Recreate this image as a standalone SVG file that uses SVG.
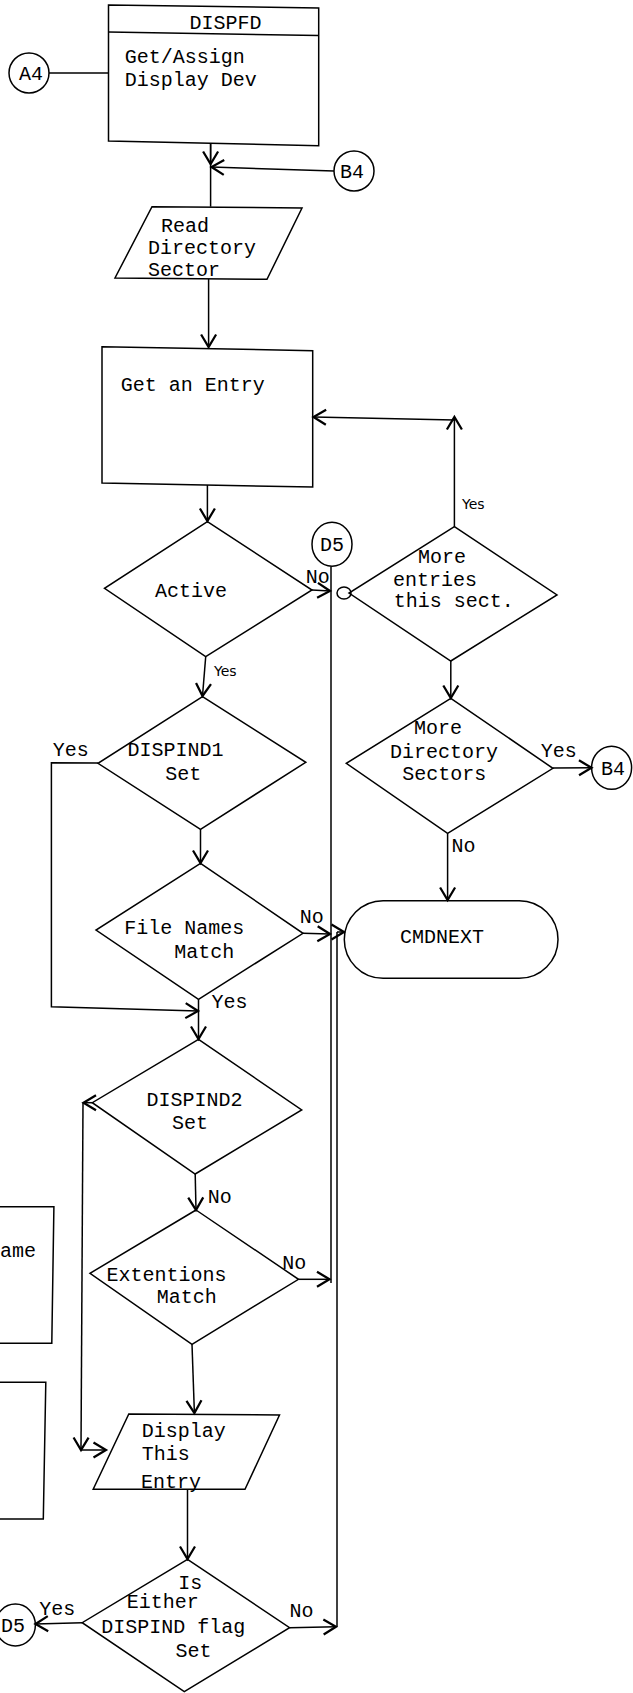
<svg xmlns="http://www.w3.org/2000/svg" width="633" height="1693" viewBox="0 0 633 1693">
<style>
.s{fill:none;stroke:#000;stroke-width:1.5}
.n{fill:none;stroke:#000;stroke-width:1.5}
.t{font-family:"Liberation Mono","DejaVu Sans Mono",monospace;font-size:20px;fill:#000}
.c{text-anchor:middle}
.hw{font-family:"DejaVu Sans",sans-serif;font-size:14px;fill:#000}
</style>
<defs>
<marker id="a" markerUnits="userSpaceOnUse" markerWidth="20" markerHeight="20" viewBox="-12 -8 14 16" refX="0" refY="0" orient="auto">
<path d="M-10,-6 L0,0 L-10,6" fill="none" stroke="#000" stroke-width="1.8"/>
</marker>
</defs>
<rect width="633" height="1693" fill="#fff"/>
<g id="connectors" class="s">
<path d="M49,73 H108.5"/>
<path d="M210.6,144 V206.7"/>
<path d="M210.6,144 V164" marker-end="url(#a)"/>
<path d="M334,171 L211.5,167" marker-end="url(#a)"/>
<path d="M208.6,279 V347" marker-end="url(#a)"/>
<path d="M207.4,485 V521" marker-end="url(#a)"/>
<path d="M454.4,526.7 V417" marker-end="url(#a)"/>
<path d="M454.4,420 L313.5,417" marker-end="url(#a)"/>
<path d="M312,590 L330,591" marker-end="url(#a)"/>
<path d="M331,566.5 V1283"/>
<ellipse cx="344" cy="593" rx="7" ry="6"/>
<path d="M450.8,661 V698" marker-end="url(#a)"/>
<path d="M552.9,768 L591.5,767.7" marker-end="url(#a)"/>
<path d="M447.6,833.3 V900" marker-end="url(#a)"/>
<path d="M205.7,656.7 L202.5,696" marker-end="url(#a)"/>
<path d="M98,763 L51.4,762.7 V1006.7 L198,1011" marker-end="url(#a)"/>
<path d="M200.5,829.3 V863" marker-end="url(#a)"/>
<path d="M303,933.3 L330,934" marker-end="url(#a)"/>
<path d="M198.5,999.3 V1039" marker-end="url(#a)"/>
<path d="M92.3,1102.7 L83.5,1102.7" marker-end="url(#a)"/>
<path d="M83,1102.7 L81,1450" marker-end="url(#a)"/>
<path d="M81,1450 H106" marker-end="url(#a)"/>
<path d="M195.2,1174 L196,1210" marker-end="url(#a)"/>
<path d="M298.5,1279.3 H329.5" marker-end="url(#a)"/>
<path d="M192,1344.3 L194.4,1413" marker-end="url(#a)"/>
<path d="M187.5,1489.3 V1559" marker-end="url(#a)"/>
<path d="M82.2,1622.7 L35.5,1624" marker-end="url(#a)"/>
<path d="M289.6,1627.7 L336,1626.7" marker-end="url(#a)"/>
<path d="M337,1626.7 V932"/>
<path d="M337,932 H344" marker-end="url(#a)"/>
</g>
<g id="dispfd">
<path class="n" d="M108.5,5 L318.7,8 L318.7,145.7 L108.5,141 Z"/>
<path class="n" d="M108.5,32 L318.7,35.5"/>
<text class="t c" x="225.6" y="29">DISPFD</text>
<text class="t" x="124.7" y="63.3">Get/Assign</text>
<text class="t" x="124.7" y="86">Display Dev</text>
</g>
<g id="a4">
<circle class="n" cx="29" cy="73" r="20"/>
<text class="t c" x="31" y="80">A4</text>
</g>
<g id="b4-top">
<circle class="n" cx="354" cy="171" r="20"/>
<text class="t c" x="352" y="178">B4</text>
</g>
<g id="read-dir">
<path class="n" d="M152,206.7 L302,208 L267,279.3 L115,278 Z"/>
<text class="t" x="161" y="232">Read</text>
<text class="t" x="148" y="254">Directory</text>
<text class="t" x="148" y="276">Sector</text>
</g>
<g id="get-entry">
<path class="n" d="M102,346.7 L312.7,350.7 L312.7,487 L102,483 Z"/>
<text class="t" x="120.7" y="390.7">Get an Entry</text>
</g>
<g id="active">
<path class="n" d="M207.4,521.7 L312,590 L205.7,656.7 L104.5,588.3 Z"/>
<text class="t" x="155" y="596.7">Active</text>
<text class="t" x="305.8" y="583.3">No</text>
<text class="hw" x="214" y="676">Yes</text>
</g>
<g id="d5-top">
<ellipse class="n" cx="332" cy="544.3" rx="20" ry="22"/>
<text class="t c" x="332" y="551">D5</text>
</g>
<g id="more-entries">
<path class="n" d="M454.4,526.7 L557,595 L450.8,661 L349,593 Z"/>
<text class="t" x="418" y="563.3">More</text>
<text class="t" x="393" y="586">entries</text>
<text class="t" x="393.7" y="607.3">this sect.</text>
<text class="hw" x="462" y="509">Yes</text>
</g>
<g id="more-dir">
<path class="n" d="M450.8,698.3 L552.9,768.3 L447.6,833.3 L346.3,763.3 Z"/>
<text class="t" x="414" y="734">More</text>
<text class="t" x="390" y="758.3">Directory</text>
<text class="t" x="402.2" y="780">Sectors</text>
<text class="t" x="540.7" y="756.7">Yes</text>
<text class="t" x="451.6" y="852.3">No</text>
</g>
<g id="b4-right">
<ellipse class="n" cx="611.6" cy="767.7" rx="20" ry="21.5"/>
<text class="t c" x="613" y="775">B4</text>
</g>
<g id="cmdnext">
<rect class="n" x="344.3" y="900.7" width="213.7" height="77.6" rx="38.8" ry="38.8"/>
<text class="t" x="400" y="942.7">CMDNEXT</text>
</g>
<g id="dispind1">
<path class="n" d="M202.5,696.7 L305.8,762.3 L200.5,829.3 L98,763.3 Z"/>
<text class="t" x="127.6" y="756">DISPIND1</text>
<text class="t" x="165.2" y="779.5">Set</text>
<text class="t" x="52.7" y="756">Yes</text>
</g>
<g id="file-names">
<path class="n" d="M200.5,863.3 L303,933.3 L198.5,999.3 L96,930 Z"/>
<text class="t" x="124.3" y="934.3">File Names</text>
<text class="t" x="174.2" y="958.3">Match</text>
<text class="t" x="299.7" y="923.3">No</text>
<text class="t" x="211.4" y="1008.3">Yes</text>
</g>
<g id="dispind2">
<path class="n" d="M198.5,1039.3 L301.7,1110 L195.2,1174 L92.3,1102.7 Z"/>
<text class="t" x="146.6" y="1105.7">DISPIND2</text>
<text class="t" x="172.1" y="1129">Set</text>
<text class="t" x="207.8" y="1203.3">No</text>
</g>
<g id="extentions">
<path class="n" d="M196,1210 L298.5,1279.3 L192,1344.3 L90,1273.3 Z"/>
<text class="t" x="106.5" y="1280.7">Extentions</text>
<text class="t" x="156.7" y="1302.7">Match</text>
<text class="t" x="282.3" y="1269">No</text>
</g>
<g id="side-box-1">
<path class="n" d="M-5,1206.7 L53.9,1206.7 L51.8,1343.3 L-5,1343.3"/>
<text class="t" x="0" y="1257">ame</text>
</g>
<g id="side-box-2">
<path class="n" d="M-5,1382.3 L45.8,1382.3 L43.3,1519 L-5,1519"/>
</g>
<g id="display-entry">
<path class="n" d="M128.8,1414 L279.5,1415 L245,1489.3 L93.2,1489.3 Z"/>
<text class="t" x="141.8" y="1437">Display</text>
<text class="t" x="141.8" y="1460">This</text>
<text class="t" x="141" y="1488">Entry</text>
</g>
<g id="is-either">
<path class="n" d="M187.5,1559.3 L289.6,1627.7 L184.3,1691.7 L82.2,1622.7 Z"/>
<text class="t" x="178.2" y="1589.3">Is</text>
<text class="t" x="126.8" y="1608.3">Either</text>
<text class="t" x="101.3" y="1633.3">DISPIND flag</text>
<text class="t" x="175.4" y="1656.7">Set</text>
<text class="t" x="39.3" y="1615">Yes</text>
<text class="t" x="289.6" y="1617.3">No</text>
</g>
<g id="d5-bottom">
<ellipse class="n" cx="15.4" cy="1625" rx="20" ry="21"/>
<text class="t c" x="13" y="1632">D5</text>
</g>
</svg>
